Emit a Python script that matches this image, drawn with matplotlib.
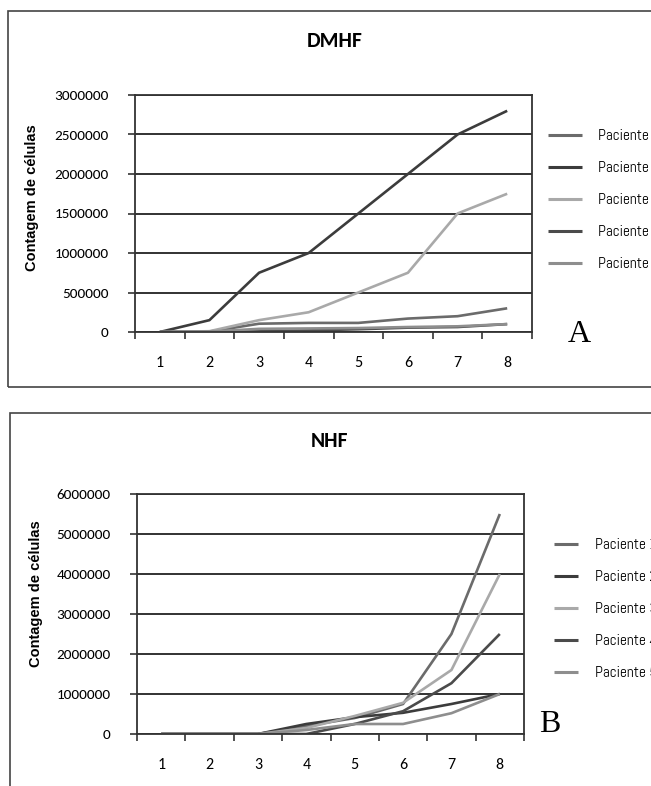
import matplotlib
matplotlib.use("Agg")
import matplotlib.pyplot as plt
from matplotlib.patches import Rectangle
from matplotlib import font_manager
import logging
logging.getLogger("matplotlib.font_manager").setLevel(logging.ERROR)

days = [1, 2, 3, 4, 5, 6, 7, 8]
patients = ["Paciente 1", "Paciente 2", "Paciente 3", "Paciente 4", "Paciente 5"]
colors = ["#6b6b6b", "#3c3c3c", "#a9a9a9", "#4b4b4b", "#8e8e8e"]

# DMHF
dmhf_p1 = [0, 5000, 105000, 115000, 115000, 170000, 200000, 300000]
dmhf_p2 = [0, 150000, 750000, 1000000, 1500000, 2000000, 2500000, 2800000]
dmhf_p3 = [0, 10000, 150000, 250000, 500000, 750000, 1500000, 1750000]
dmhf_p4 = [0, 0, 8000, 20000, 35000, 55000, 63000, 100000]
dmhf_p5 = [0, 5000, 40000, 45000, 50000, 63000, 72000, 100000]

# NHF
nhf_p1 = [0, 0, 0, 200000, 400000, 750000, 2500000, 5500000]
nhf_p2 = [0, 0, 0, 250000, 420000, 530000, 750000, 1000000]
nhf_p3 = [0, 0, 0, 150000, 450000, 780000, 1600000, 4000000]
nhf_p4 = [0, 0, 0, 0, 250000, 570000, 1270000, 2500000]
nhf_p5 = [0, 0, 0, 100000, 250000, 250000, 520000, 1000000]

dmhf_ticks = [0, 500000, 1000000, 1500000, 2000000, 2500000, 3000000]
nhf_ticks = [0, 1000000, 2000000, 3000000, 4000000, 5000000, 6000000]

W, H = 651, 786
fig = plt.figure(figsize=(W / 100, H / 100), dpi=100)

avail = {f.name for f in font_manager.fontManager.ttflist}
def pick(cands):
    for c in cands:
        if c in avail:
            return c
    return "DejaVu Sans"

legfont = pick(["Abel", "Pathway Gothic One", "Liberation Sans Narrow", "Liberation Sans"])
tickfont = pick(["Carlito", "Open Sans"])
labfont = pick(["Liberation Sans", "Arimo"])
serif = pick(["Liberation Serif", "Tinos", "DejaVu Serif"])

def px(x, y):
    return x / W, 1 - y / H

# panel borders
fig.patches.append(Rectangle(px(8, 387), (700 - 8) / W, (387 - 11) / H,
                             transform=fig.transFigure, fill=False,
                             edgecolor="#444444", linewidth=1.2))
fig.patches.append(Rectangle(px(10, 830), (700 - 10) / W, (830 - 413) / H,
                             transform=fig.transFigure, fill=False,
                             edgecolor="#444444", linewidth=1.2))

def make_panel(rect, series, ticks, ymax, title, title_xy, letter, letter_xy,
               legend_xy, handlelen, label_y):
    ax = fig.add_axes(rect)
    for s, c, lab in zip(series, colors, patients):
        ax.plot(days, s, color=c, linewidth=1.9, label=lab, solid_capstyle="butt")
    ax.set_xlim(0.5, 8.5)
    ax.set_ylim(0, ymax)
    ax.set_yticks(ticks)
    ax.set_yticklabels([str(t) for t in ticks], fontfamily=tickfont, fontsize=11)
    ax.set_xticks(days)
    ax.set_xticklabels([str(d) for d in days], fontfamily=tickfont, fontsize=11.5)
    ax.set_xticks([d + 0.5 for d in [0] + days], minor=True)
    ax.tick_params(axis="x", which="major", length=0, pad=17)
    ax.tick_params(axis="x", which="minor", length=5, direction="out", width=1.2,
                   color="#333333")
    ax.tick_params(axis="y", which="major", length=5, direction="out", width=1.2,
                   color="#333333", pad=14)
    ax.yaxis.grid(True, color="#222222", linewidth=1.3)
    ax.set_axisbelow(True)
    for sp in ax.spines.values():
        sp.set_color("#333333")
        sp.set_linewidth(1.3)
    ax.set_ylabel("Contagem de células", fontfamily=labfont,
                  fontweight="bold", fontsize=10.5)
    ax.yaxis.set_label_coords(-0.242, label_y)
    fig.text(*px(*title_xy), title, ha="center", va="center",
             fontfamily=tickfont, fontweight="bold", fontsize=15.5)
    fig.text(*px(*letter_xy), letter, ha="center", va="center",
             fontfamily=serif, fontsize=23)
    leg = fig.legend(*ax.get_legend_handles_labels(), loc="upper left",
                     bbox_to_anchor=px(*legend_xy), frameon=False, borderpad=0,
                     borderaxespad=0, handlelength=handlelen, handletextpad=1.1,
                     labelspacing=1.18, prop={"family": legfont, "size": 11})
    for ln in leg.get_lines():
        ln.set_linewidth(2.2)
    return ax

make_panel([135 / W, 1 - 332 / H, 397 / W, 237 / H],
           [dmhf_p1, dmhf_p2, dmhf_p3, dmhf_p4, dmhf_p5], dmhf_ticks, 3000000,
           "DMHF", (335, 41), "A", (579, 334), (548, 129), 2.2, 0.565)

make_panel([137 / W, 1 - 734 / H, 387 / W, 240 / H],
           [nhf_p1, nhf_p2, nhf_p3, nhf_p4, nhf_p5], nhf_ticks, 6000000,
           "NHF", (330, 441), "B", (550, 724), (554, 538), 1.6, 0.583)

fig.savefig("out.png", dpi=100)
